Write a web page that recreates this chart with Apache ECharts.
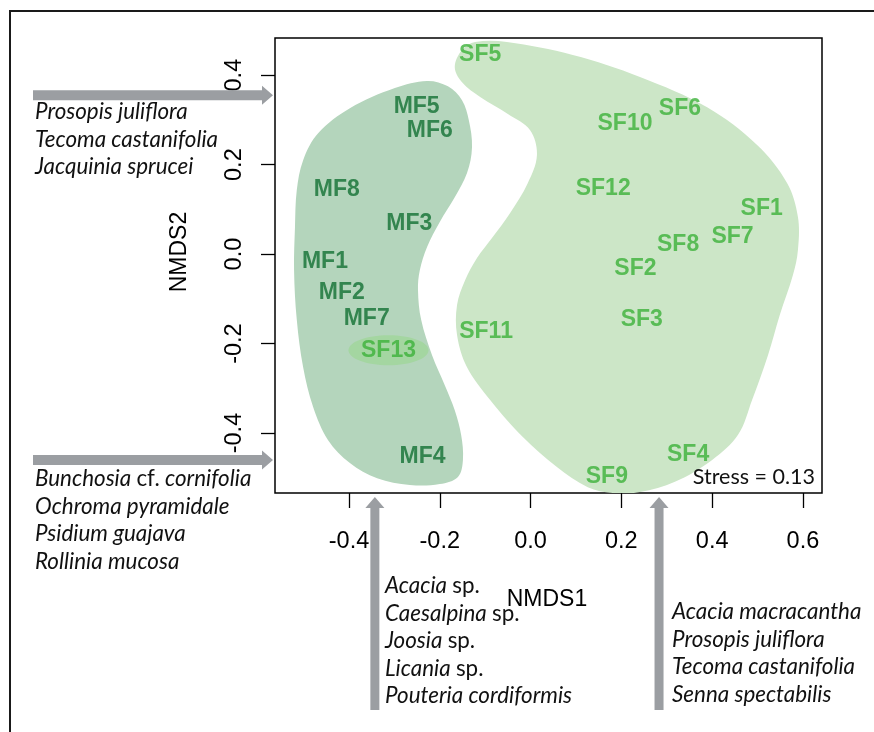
<!DOCTYPE html>
<html><head><meta charset="utf-8">
<script src="https://cdn.jsdelivr.net/npm/echarts@6/dist/echarts.min.js"></script>
<style>html,body{margin:0;padding:0;background:#fff}#c{width:874px;height:732px}</style>
</head><body><div id="c"></div>
<script>
// ---- data ----
const xTicks = [-0.4, -0.2, 0.0, 0.2, 0.4, 0.6];
const yTicks = [-0.4, -0.2, 0.0, 0.2, 0.4];

const mfNames = ['MF1','MF2','MF3','MF4','MF5','MF6','MF7','MF8'];
const mfX = [-0.453, -0.416, -0.267, -0.238, -0.251, -0.222, -0.361, -0.427];
const mfY = [-0.018, -0.086, 0.069, -0.453, 0.329, 0.277, -0.145, 0.143];

const sfNames = ['SF1','SF2','SF3','SF4','SF5','SF6','SF7','SF8','SF9','SF10','SF11','SF12','SF13'];
const sfX = [0.509, 0.231, 0.245, 0.347, -0.111, 0.329, 0.445, 0.325, 0.168, 0.208, -0.098, 0.160, -0.313];
const sfY = [0.102, -0.032, -0.146, -0.449, 0.445, 0.326, 0.039, 0.020, -0.498, 0.292, -0.174, 0.147, -0.215];

const mfHullX = [-0.228,-0.182,-0.151,-0.136,-0.129,-0.140,-0.167,-0.200,-0.228,-0.244,-0.248,-0.241,-0.217,-0.189,-0.167,-0.153,-0.149,-0.160,-0.200,-0.266,-0.338,-0.398,-0.446,-0.479,-0.501,-0.515,-0.521,-0.519,-0.515,-0.501,-0.468,-0.398,-0.299];
const mfHullY = [0.387,0.375,0.344,0.299,0.239,0.181,0.127,0.072,0.016,-0.036,-0.080,-0.147,-0.226,-0.293,-0.349,-0.404,-0.460,-0.498,-0.514,-0.516,-0.501,-0.467,-0.416,-0.342,-0.253,-0.147,-0.036,0.060,0.143,0.210,0.270,0.326,0.371];

const sfHullX = [-0.167,-0.151,-0.122,-0.052,0.093,0.241,0.389,0.499,0.565,0.589,0.589,0.578,0.549,0.523,0.488,0.457,0.400,0.318,0.241,0.181,0.126,0.058,-0.017,-0.089,-0.140,-0.162,-0.162,-0.144,-0.118,-0.085,-0.045,-0.006,0.014,-0.001,-0.050,-0.111,-0.151];
const sfHullY = [0.418,0.456,0.474,0.474,0.445,0.396,0.328,0.244,0.159,0.083,0.009,-0.047,-0.136,-0.226,-0.326,-0.404,-0.460,-0.509,-0.532,-0.534,-0.521,-0.476,-0.409,-0.326,-0.253,-0.181,-0.114,-0.058,-0.009,0.036,0.092,0.159,0.221,0.277,0.313,0.351,0.384];

const highlightName = 'SF13';
const stressText = 'Stress = 0.13';
const xTitle = 'NMDS1';
const yTitle = 'NMDS2';

// arrows pointing at axis values
const arrowYVals = [0.355, -0.46];
const arrowXVals = [-0.343, 0.283];

const noteTopLeft = ['Prosopis juliflora', 'Tecoma castanifolia', 'Jacquinia sprucei'];
const noteBottomLeft = ['Bunchosia cf. cornifolia', 'Ochroma pyramidale', 'Psidium guajava', 'Rollinia mucosa'];
const noteBottomMid = ['Acacia sp.', 'Caesalpina sp.', 'Joosia sp.', 'Licania sp.', 'Pouteria cordiformis'];
const noteBottomRight = ['Acacia macracantha', 'Prosopis juliflora', 'Tecoma castanifolia', 'Senna spectabilis'];

// ---- chart ----
const chart = echarts.init(document.getElementById('c'), null, {renderer: 'canvas'});
const AX = 'Liberation Sans';
const NOTE = 'Lato';

function hullSeries(xs, ys, color, z) {
  return {
    type: 'custom', silent: true, z: z, clip: true,
    data: [[xs[0], ys[0]]],
    renderItem: function (params, api) {
      const pts = xs.map(function (x, i) { return api.coord([x, ys[i]]); });
      return { type: 'polygon', shape: { points: pts, smooth: 0.35 }, style: { fill: color } };
    }
  };
}
function labelSeries(names, xs, ys, color) {
  return {
    type: 'scatter', z: 5, silent: true,
    symbolSize: 1, itemStyle: { color: 'rgba(0,0,0,0)' },
    data: names.map(function (n, i) { return { name: n, value: [xs[i], ys[i]] }; }),
    label: { show: true, position: 'inside', formatter: '{b}', color: color,
      fontSize: 23, fontWeight: 'bold', fontFamily: AX }
  };
}
const hi = sfNames.indexOf(highlightName);

const option = {
  animation: false,
  backgroundColor: '#fff',
  grid: { left: 275, right: 52, top: 38, bottom: 239, show: true, borderColor: '#000', borderWidth: 1.5, containLabel: false },
  xAxis: {
    type: 'value', min: -0.563, max: 0.642,
    axisLine: { show: false, onZero: false }, splitLine: { show: false },
    axisTick: { show: true, customValues: xTicks, length: 15, lineStyle: { color: '#000', width: 1.3 } },
    axisLabel: { customValues: xTicks, formatter: function (v) { return v.toFixed(1); }, color: '#000', fontSize: 23.5, fontFamily: AX, margin: 37 }
  },
  yAxis: {
    type: 'value', min: -0.534, max: 0.483,
    axisLine: { show: false, onZero: false }, splitLine: { show: false },
    axisTick: { show: true, customValues: yTicks, length: 14, lineStyle: { color: '#000', width: 1.3 } },
    axisLabel: { customValues: yTicks, rotate: 90, formatter: function (v) { return v.toFixed(1); }, color: '#000', fontSize: 23.5, fontFamily: AX, margin: 28 }
  },
  series: [
    hullSeries(sfHullX, sfHullY, '#cce6c7', 1),
    hullSeries(mfHullX, mfHullY, '#b4d5bc', 2),
    {
      type: 'custom', silent: true, z: 3,
      data: [[sfX[hi], sfY[hi]]],
      renderItem: function (params, api) {
        const c = api.coord([api.value(0), api.value(1)]);
        return { type: 'ellipse', shape: { cx: c[0], cy: c[1], rx: 40, ry: 15 }, style: { fill: '#a4d6a1' } };
      }
    },
    labelSeries(mfNames, mfX, mfY, '#137033'),
    labelSeries(sfNames, sfX, sfY, '#3cb239')
  ]
};
chart.setOption(option);

function toRich(line) {
  return line.split(' ').map(function (w) { return (w === 'sp.' || w === 'cf.') ? '{n|' + w + '}' : w; }).join(' ');
}
const NOTE_SIZE = 22.4;
function noteBlock(lines, x, y0, step) {
  return lines.map(function (l, i) {
    return {
      type: 'text', x: x, y: y0 + i * step, silent: true, z: 20,
      style: {
        text: toRich(l), fontFamily: NOTE, fontSize: NOTE_SIZE, fontStyle: 'italic', fill: '#111',
        align: 'left', verticalAlign: 'middle',
        rich: { n: { fontFamily: NOTE, fontSize: NOTE_SIZE, fontStyle: 'normal', fill: '#111' } }
      }
    };
  });
}
const ARROW = '#9b9ea2';
function hArrow(x0, x1, y) {
  const h = 5, hh = 9.5, hl = 11;
  return { type: 'polygon', silent: true, z: 15,
    shape: { points: [[x0, y - h], [x1 - hl, y - h], [x1 - hl, y - hh], [x1, y], [x1 - hl, y + hh], [x1 - hl, y + h], [x0, y + h]] },
    style: { fill: ARROW } };
}
function vArrow(x, yTip, yEnd) {
  const h = 4.5, hh = 9.5, hl = 11;
  return { type: 'polygon', silent: true, z: 15,
    shape: { points: [[x - h, yEnd], [x - h, yTip + hl], [x - hh, yTip + hl], [x, yTip], [x + hh, yTip + hl], [x + h, yTip + hl], [x + h, yEnd]] },
    style: { fill: ARROW } };
}

const g = [];
g.push({ type: 'polyline', silent: true, z: 10, shape: { points: [[10, 732], [10, 11], [874, 11]] }, style: { stroke: '#1a1a1a', lineWidth: 2, fill: null } });
arrowYVals.forEach(function (v) {
  const py = chart.convertToPixel({ yAxisIndex: 0 }, v);
  g.push(hArrow(33, 273, py));
});
arrowXVals.forEach(function (v) {
  const px = chart.convertToPixel({ xAxisIndex: 0 }, v);
  g.push(vArrow(px, 497, 710));
});
Array.prototype.push.apply(g, noteBlock(noteTopLeft, 35, 112, 27.5));
Array.prototype.push.apply(g, noteBlock(noteBottomLeft, 35, 479, 27.5));
Array.prototype.push.apply(g, noteBlock(noteBottomMid, 385, 586, 27.5));
Array.prototype.push.apply(g, noteBlock(noteBottomRight, 672, 612, 27.5));
g.push({ type: 'text', x: 815, y: 477, z: 20, silent: true,
  style: { text: stressText, fontFamily: NOTE, fontSize: 21.5, fill: '#111', align: 'right', verticalAlign: 'middle' } });
g.push({ type: 'text', x: 547, y: 600, z: 20, silent: true,
  style: { text: xTitle, fontFamily: AX, fontSize: 23, fill: '#000', align: 'center', verticalAlign: 'middle' } });
g.push({ type: 'text', x: 180, y: 252, rotation: Math.PI / 2, z: 20, silent: true,
  style: { text: yTitle, fontFamily: AX, fontSize: 23, fill: '#000', align: 'center', verticalAlign: 'middle' } });
chart.setOption({ graphic: { elements: g } });
</script>
</body></html>
